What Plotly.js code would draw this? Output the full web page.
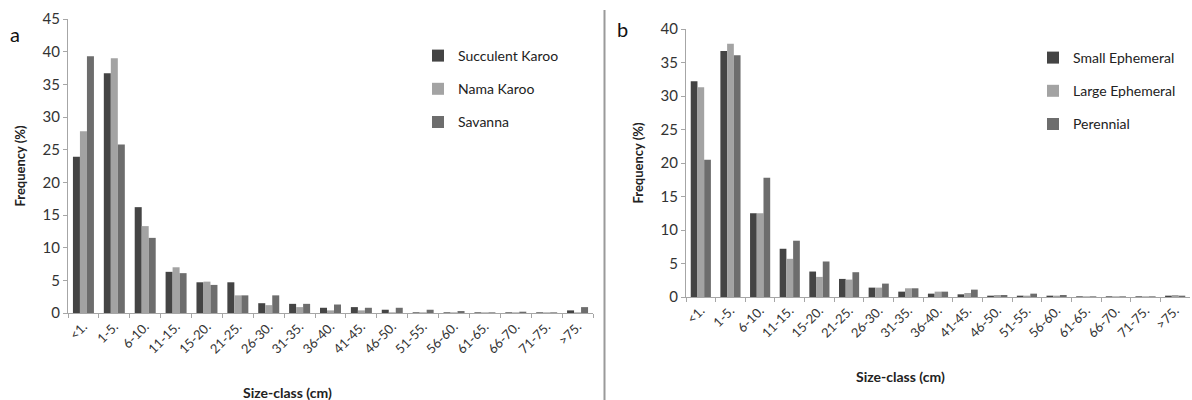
<!DOCTYPE html>
<html>
<head>
<meta charset="utf-8">
<script src="https://cdn.plot.ly/plotly-3.0.1.min.js"></script>
<style>html,body{margin:0;padding:0;background:#fff;}#chart{width:1192px;height:400px;}</style>
</head>
<body>
<div id="chart"></div>
<script>
const categories = ["<1.", "1-5.", "6-10.", "11-15.", "15-20.", "21-25.", "26-30.", "31-35.", "36-40.", "41-45.", "46-50.", "51-55.", "56-60.", "61-65.", "66-70.", "71-75.", ">75."];

const succulentKaroo = [23.9, 36.7, 16.2, 6.3, 4.7, 4.7, 1.5, 1.4, 0.8, 0.9, 0.5, 0.1, 0.1, 0.1, 0.1, 0.1, 0.4];
const namaKaroo      = [27.8, 39.0, 13.3, 7.0, 4.8, 2.7, 1.2, 0.9, 0.4, 0.4, 0.1, 0.1, 0.1, 0.1, 0.1, 0.1, 0.1];
const savanna        = [39.3, 25.8, 11.5, 6.1, 4.3, 2.7, 2.7, 1.4, 1.3, 0.8, 0.8, 0.5, 0.3, 0.1, 0.2, 0.1, 0.9];

const smallEphemeral = [32.2, 36.7, 12.5, 7.2, 3.8, 2.7, 1.4, 0.8, 0.5, 0.4, 0.2, 0.2, 0.2, 0.1, 0.1, 0.1, 0.2];
const largeEphemeral = [31.3, 37.8, 12.5, 5.7, 3.0, 2.6, 1.4, 1.3, 0.8, 0.6, 0.3, 0.2, 0.2, 0.1, 0.1, 0.1, 0.3];
const perennial      = [20.5, 36.1, 17.8, 8.4, 5.3, 3.7, 2.0, 1.3, 0.8, 1.1, 0.3, 0.5, 0.3, 0.1, 0.1, 0.1, 0.2];

const seriesA = ["Succulent Karoo", "Nama Karoo", "Savanna"];
const seriesB = ["Small Ephemeral", "Large Ephemeral", "Perennial"];

const DARK = "#444444", LIGHT = "#a3a3a3", MID = "#6d6d6d";
const FONT = "Lato, 'Liberation Sans', sans-serif";

function bar(name, y, color, xa, ya, legend, grp) {
  return {type: "bar", name: name, x: categories, y: y, xaxis: xa, yaxis: ya,
          legend: legend, legendgroup: grp,
          marker: {color: color, line: {width: 0}}, hoverinfo: "x+y+name"};
}

const data = [
  bar(seriesA[0], succulentKaroo, DARK, "x", "y", "legend", "a1"),
  bar(seriesA[1], namaKaroo, LIGHT, "x", "y", "legend", "a2"),
  bar(seriesA[2], savanna, MID, "x", "y", "legend", "a3"),
  bar(seriesB[0], smallEphemeral, DARK, "x2", "y2", "legend2", "b1"),
  bar(seriesB[1], largeEphemeral, LIGHT, "x2", "y2", "legend2", "b2"),
  bar(seriesB[2], perennial, MID, "x2", "y2", "legend2", "b3")
];

const xaxisCommon = {
  type: "category", showgrid: false, zeroline: false,
  showline: true, linecolor: "#a6a6a6", linewidth: 1,
  ticks: "outside", tickson: "boundaries", ticklen: 4, tickcolor: "#a6a6a6",
  tickangle: -45, tickfont: {family: FONT, size: 13, color: "#333"},
  fixedrange: true
};
const yaxisCommon = {
  showgrid: false, zeroline: false, showline: true, linecolor: "#a6a6a6", linewidth: 1,
  ticks: "outside", ticklen: 4, tickcolor: "#a6a6a6", dtick: 5,
  tickfont: {family: FONT, size: 15, color: "#333"}, fixedrange: true
};

const layout = {
  width: 1192, height: 400,
  margin: {l: 0, r: 0, t: 0, b: 0},
  paper_bgcolor: "#fff", plot_bgcolor: "#fff",
  font: {family: FONT, color: "#222"},
  barmode: "group", bargap: 0.32, bargroupgap: 0,
  showlegend: true,
  xaxis: Object.assign({}, xaxisCommon, {domain: [68/1192, 593/1192], anchor: "y"}),
  yaxis: Object.assign({}, yaxisCommon, {domain: [87/400, 381/400], range: [0, 45], anchor: "x",
    title: {text: "<b>Frequency (%)</b>", font: {family: FONT, size: 13, color: "#222"}, standoff: 14}}),
  xaxis2: Object.assign({}, xaxisCommon, {domain: [686/1192, 1190/1192], anchor: "y2"}),
  yaxis2: Object.assign({}, yaxisCommon, {domain: [103/400, 371/400], range: [0, 40], anchor: "x2",
    title: {text: "<b>Frequency (%)</b>", font: {family: FONT, size: 13, color: "#222"}, standoff: 14}}),
  legend: {x: 418/1192, y: 360/400, xanchor: "left", yanchor: "top",
    font: {family: FONT, size: 14, color: "#222"}, bgcolor: "rgba(0,0,0,0)",
    traceorder: "grouped", tracegroupgap: 12, itemwidth: 30},
  legend2: {x: 1033/1192, y: 358/400, xanchor: "left", yanchor: "top",
    font: {family: FONT, size: 14, color: "#222"}, bgcolor: "rgba(0,0,0,0)",
    traceorder: "grouped", tracegroupgap: 12, itemwidth: 30},
  annotations: [
    {text: "<b>Size-class (cm)</b>", xref: "paper", yref: "paper", x: 287/1192, y: 8/400,
     xanchor: "center", yanchor: "middle", showarrow: false, font: {family: FONT, size: 14, color: "#222"}},
    {text: "<b>Size-class (cm)</b>", xref: "paper", yref: "paper", x: 900/1192, y: 24/400,
     xanchor: "center", yanchor: "middle", showarrow: false, font: {family: FONT, size: 14, color: "#222"}},
    {text: "a", xref: "paper", yref: "paper", x: 15/1192, y: 366/400,
     xanchor: "center", yanchor: "middle", showarrow: false, font: {family: FONT, size: 20, color: "#111"}},
    {text: "b", xref: "paper", yref: "paper", x: 622/1192, y: 371/400,
     xanchor: "center", yanchor: "middle", showarrow: false, font: {family: FONT, size: 20, color: "#111"}}
  ],
  shapes: [
    {type: "line", xref: "paper", yref: "paper", x0: 604.5/1192, x1: 604.5/1192, y0: 0, y1: 390/400,
     line: {color: "#9a9a9a", width: 2}}
  ]
};

Plotly.newPlot("chart", data, layout, {displayModeBar: false, staticPlot: true});
</script>
</body>
</html>
